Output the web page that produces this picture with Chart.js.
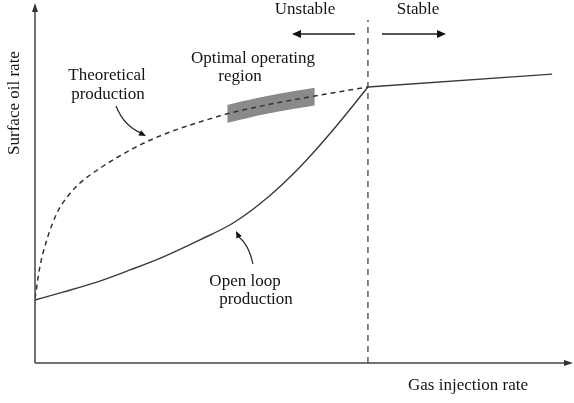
<!DOCTYPE html>
<html>
<head>
<meta charset="utf-8">
<script src="https://cdn.jsdelivr.net/npm/chart.js@4.4.1/dist/chart.umd.min.js"></script>
<style>
  html, body { margin: 0; padding: 0; background: #fff; }
  #wrap { width: 574px; height: 403px; }
</style>
</head>
<body>
<div id="wrap"><canvas id="chart" width="574" height="403"></canvas></div>
<script>
// values (arbitrary units, 0..100 on both axes)
const openRate = [0, 5.2, 11.5, 17.7, 23.8, 30.7, 36.9, 43.2, 49.3, 55.5, 62.0];
const openOil = [17.6, 19.8, 22.6, 26.0, 29.6, 34.4, 39.1, 46.1, 54.7, 65.1, 77.1];
const stableRate = [62.0, 96.3];
const stableOil = [77.1, 80.7];
const theoRate = [0, 0.9, 2.2, 4.1, 6.0, 8.4, 11.5, 15.3, 20.1, 25.1, 32.6, 35.8, 43.2, 51.8, 62.0];
const theoOil = [18.0, 26.8, 34.4, 41.9, 46.4, 50.3, 53.8, 57.4, 61.3, 64.5, 68.2, 69.6, 72.1, 74.5, 77.1];
const bandRate = [35.8, 39.5, 43.2, 47.5, 52.1];
const bandUpper = [72.1, 73.4, 74.6, 75.8, 76.9];
const bandLower = [67.1, 68.4, 69.6, 70.8, 71.9];
const limitRate = [62.0, 62.0];
const limitOil = [0, 95.8];

const pts = (xs, ys) => xs.map((x, i) => ({ x, y: ys[i] }));

const INK = "#3a3a3a";
const TXT = "#141414";
const FONT = '17px "Liberation Serif", "Times New Roman", serif';
const NONE = "rgba(0,0,0,0)";

const arrowHead = (ctx, x, y, ang, len = 8, half = 3.5) => {
  ctx.save();
  ctx.translate(x, y);
  ctx.rotate(ang);
  ctx.beginPath();
  ctx.moveTo(0, 0);
  ctx.lineTo(-len, -half);
  ctx.lineTo(-len, half);
  ctx.closePath();
  ctx.fill();
  ctx.restore();
};

const decor = {
  id: "decor",
  afterDraw(chart) {
    const { ctx, chartArea: a } = chart;
    ctx.save();
    ctx.strokeStyle = "#444";
    ctx.fillStyle = "#333";
    ctx.lineWidth = 1.5;

    // axes with arrows
    ctx.beginPath();
    ctx.moveTo(a.left, a.bottom);
    ctx.lineTo(a.left, a.top + 4);
    ctx.moveTo(a.left, a.bottom);
    ctx.lineTo(a.right - 4, a.bottom);
    ctx.stroke();
    arrowHead(ctx, a.left, a.top - 2, -Math.PI / 2, 9, 3);
    arrowHead(ctx, a.right + 1, a.bottom, 0, 9, 3);

    // unstable / stable arrows
    ctx.strokeStyle = "#222";
    ctx.fillStyle = "#111";
    ctx.lineWidth = 1.3;
    ctx.beginPath();
    ctx.moveTo(355, 34); ctx.lineTo(298, 34);
    ctx.moveTo(382, 34); ctx.lineTo(440, 34);
    ctx.stroke();
    arrowHead(ctx, 292, 34, Math.PI, 9, 4);
    arrowHead(ctx, 446, 34, 0, 9, 4);

    // curved pointers
    ctx.lineWidth = 1.2;
    ctx.beginPath();
    ctx.moveTo(116, 106);
    ctx.quadraticCurveTo(124, 126, 141, 133);
    ctx.stroke();
    arrowHead(ctx, 146, 136, Math.atan2(4, 8), 7, 3);
    ctx.beginPath();
    ctx.moveTo(253, 264);
    ctx.quadraticCurveTo(249, 245, 239, 237);
    ctx.stroke();
    arrowHead(ctx, 236, 231, Math.atan2(-8, -4), 7, 3);

    // text
    ctx.fillStyle = TXT;
    ctx.font = FONT;
    ctx.textAlign = "center";
    ctx.textBaseline = "middle";
    ctx.fillText("Unstable", 305, 10);
    ctx.fillText("Stable", 418, 10);
    ctx.fillText("Theoretical", 107, 76);
    ctx.fillText("production", 108, 95);
    ctx.fillText("Optimal operating", 253, 59);
    ctx.fillText("region", 240, 77);
    ctx.fillText("Open loop", 245, 282);
    ctx.fillText("production", 256, 300);
    ctx.fillText("Gas injection rate", 468, 386);

    ctx.translate(15, 103);
    ctx.rotate(-Math.PI / 2);
    ctx.fillText("Surface oil rate", 0, 0);
    ctx.restore();
  },
};

new Chart(document.getElementById("chart"), {
  type: "line",
  data: {
    datasets: [
      { data: pts(theoRate, theoOil), borderColor: "#333", borderWidth: 1.5, borderDash: [5, 4], pointRadius: 0, cubicInterpolationMode: "monotone", order: 0 },
      { data: pts(openRate, openOil), borderColor: INK, borderWidth: 1.4, pointRadius: 0, cubicInterpolationMode: "monotone", order: 0 },
      { data: pts(stableRate, stableOil), borderColor: INK, borderWidth: 1.4, pointRadius: 0, tension: 0, order: 0 },
      { data: pts(limitRate, limitOil), borderColor: "#444", borderWidth: 1.3, borderDash: [6, 5], pointRadius: 0, tension: 0, order: 0 },
      { data: pts(bandRate, bandLower), borderColor: NONE, borderWidth: 0, pointRadius: 0, fill: false, tension: 0.3, order: 5 },
      { data: pts(bandRate, bandUpper), borderColor: NONE, borderWidth: 0, pointRadius: 0, fill: "-1", backgroundColor: "#8a8a8a", tension: 0.3, order: 5 },
    ],
  },
  options: {
    responsive: false,
    animation: false,
    events: [],
    layout: { padding: { left: 35, right: 2, top: 5, bottom: 40 } },
    plugins: {
      legend: { display: false },
      tooltip: { enabled: false },
      filler: { drawTime: "beforeDatasetsDraw" },
    },
    scales: {
      x: { type: "linear", min: 0, max: 100, display: false },
      y: { type: "linear", min: 0, max: 100, display: false },
    },
  },
  plugins: [decor],
});
</script>
</body>
</html>
